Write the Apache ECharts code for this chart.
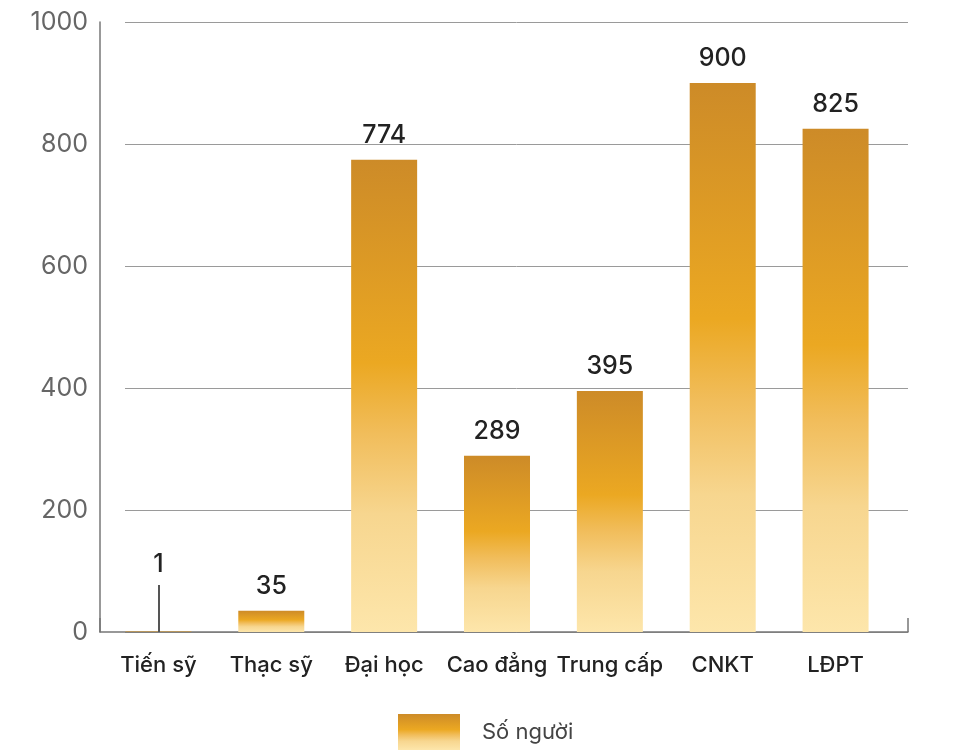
<!DOCTYPE html>
<html>
<head>
<meta charset="utf-8">
<script src="https://cdn.jsdelivr.net/npm/echarts@6/dist/echarts.min.js"></script>
<style>
    html, body { margin: 0; padding: 0; background: #fff; }
    #chart { width: 963px; height: 752px; }
</style>
</head>
<body>
<div id="chart"></div>
<script>
const categories = ['Tiến sỹ', 'Thạc sỹ', 'Đại học', 'Cao đẳng', 'Trung cấp', 'CNKT', 'LĐPT'];
const values = [1, 35, 774, 289, 395, 900, 825];
const seriesName = 'Số người';
const yMin = 0;
const yMax = 1000;
const yStep = 200;
// thin marker drawn above "Tiến sỹ" in the original
const markerTop = 77;

const FONT = 'Inter, "Noto Sans", sans-serif';

const barGradient = new echarts.graphic.LinearGradient(0, 0, 0, 1, [
    { offset: 0, color: '#CD8B28' },
    { offset: 0.43, color: '#EBA822' },
    { offset: 0.58, color: '#F1BD5B' },
    { offset: 0.75, color: '#F7D68F' },
    { offset: 1, color: '#FDE6AB' }
]);

const chart = echarts.init(document.getElementById('chart'));

const option = {
    animation: false,
    textStyle: { fontFamily: FONT },
    grid: [
        { left: 100, right: 55, top: 22, bottom: 120 },   // axis lines
        { left: 125, right: 55, top: 22, bottom: 120 },   // split lines
        { left: 102, right: 71, top: 22, bottom: 120 }    // bars
    ],
    legend: {
        left: 398,
        top: 714,
        padding: 0,
        icon: 'rect',
        itemWidth: 62,
        itemHeight: 36,
        textStyle: { fontSize: 22, color: '#444', fontFamily: FONT, padding: [0, 0, 0, 17] },
        data: [seriesName]
    },
    xAxis: [
        {
            gridIndex: 0, type: 'value', min: 0, max: 1, interval: 1,
            axisLine: { show: true, lineStyle: { color: '#777', width: 1.5 } },
            axisTick: { show: true, inside: true, length: 14, lineStyle: { color: '#777', width: 1.5 } },
            axisLabel: { show: false },
            splitLine: { show: false }
        },
        { gridIndex: 1, type: 'value', min: 0, max: 1, show: false },
        {
            gridIndex: 2, type: 'category', data: categories,
            axisLine: { show: false },
            axisTick: { show: false },
            axisLabel: { interval: 0, fontSize: 22, fontWeight: 500, color: '#222', margin: 22, fontFamily: FONT }
        }
    ],
    yAxis: [
        {
            gridIndex: 0, type: 'value', min: yMin, max: yMax, interval: yStep,
            axisLine: { show: true, lineStyle: { color: '#777', width: 1.5 } },
            axisTick: { show: false },
            axisLabel: { fontSize: 25, color: '#666', margin: 12, fontFamily: FONT, formatter: v => String(v) },
            splitLine: { show: false }
        },
        {
            gridIndex: 1, type: 'value', min: yMin, max: yMax, interval: yStep,
            axisLine: { show: false },
            axisTick: { show: false },
            axisLabel: { show: false },
            splitLine: { show: true, lineStyle: { color: '#9a9a9a', width: 1 } }
        },
        { gridIndex: 2, type: 'value', min: yMin, max: yMax, interval: yStep, show: false }
    ],
    series: [{
        name: seriesName,
        type: 'bar',
        xAxisIndex: 2,
        yAxisIndex: 2,
        barWidth: 66,
        itemStyle: { color: barGradient },
        label: {
            show: true,
            position: 'top',
            distance: 12,
            fontSize: 25,
            fontWeight: 500,
            color: '#222',
            fontFamily: FONT
        },
        data: values.map((v, i) => i === 0
            ? { value: v, label: { offset: [0, -42] } }
            : v),
        markLine: {
            silent: true,
            symbol: 'none',
            label: { show: false },
            lineStyle: { color: '#555', width: 2, type: 'solid' },
            data: [[{ coord: [0, 0] }, { coord: [0, markerTop] }]]
        }
    }]
};

chart.setOption(option);
</script>
</body>
</html>
